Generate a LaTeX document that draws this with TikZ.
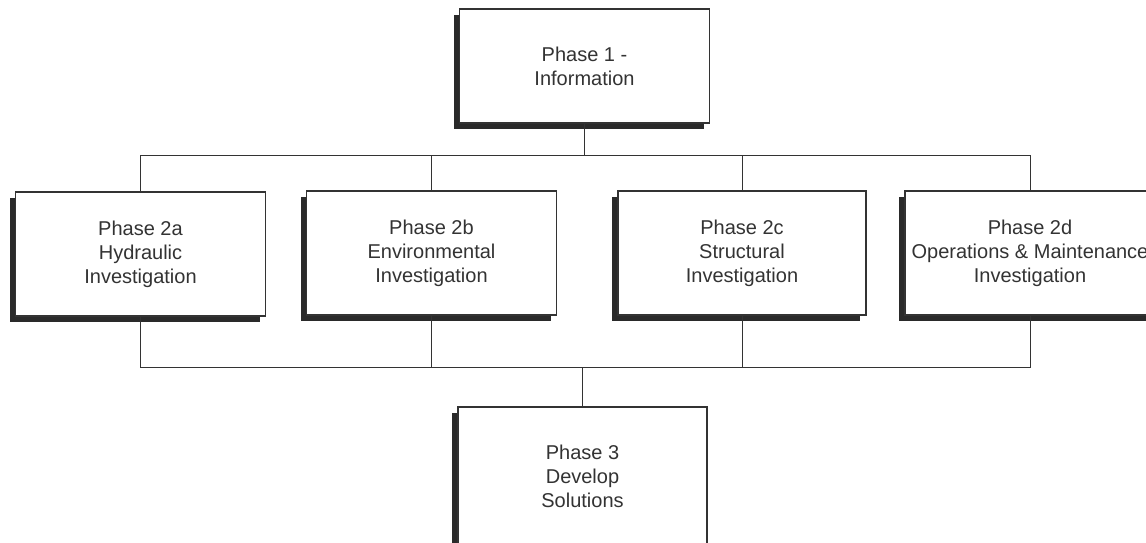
\documentclass[tikz,border=0pt]{standalone}
\usepackage{fontspec}
\setmainfont{Liberation Sans}
\usepackage{tikz}
\usetikzlibrary{positioning,shadows}
\definecolor{edge}{HTML}{333333}
\definecolor{shade}{HTML}{2A2A2A}

\begin{document}
\begin{tikzpicture}[x=1pt,y=-1pt,
  phase/.style={draw=edge,line width=1.4pt,fill=white,inner sep=0pt,
    text=black!80,align=center,font=\fontsize{20}{24}\selectfont,
    minimum width=250pt,minimum height=124pt,
    drop shadow={shadow xshift=-6pt,shadow yshift=-6pt,opacity=1,fill=shade}},
  link/.style={draw=edge,line width=1pt}]
  \clip (0,0) rectangle (1146,543);
  \fill[white] (0,0) rectangle (1146,543);
  % boxes
  \node[phase,minimum height=114pt] (p1) at (584.5,66) {Phase 1 -\\Information};
  \node[phase] (p2a) at (140.5,254) {Phase 2a\\Hydraulic\\Investigation};
  \node[phase] (p2b) at (431.5,253) {Phase 2b\\Environmental\\Investigation};
  \node[phase,minimum width=248pt] (p2c) at (742,253) {Phase 2c\\Structural\\Investigation};
  \node[phase] (p2d) at (1030,253) {Phase 2d\\Operations \& Maintenance\\Investigation};
  \node[phase,minimum width=249pt,minimum height=138pt] (p3) at (582.5,476) {Phase 3\\Develop\\Solutions};
  % upper bus
  \draw[link] (p1.south) -- ++(0,32) coordinate (hub1);
  \draw[link] (p2a.north) |- (hub1) -| (p2d.north);
  \draw[link] (p2b.north) -- (p2b.north |- hub1);
  \draw[link] (p2c.north) -- (p2c.north |- hub1);
  % lower bus
  \draw[link] (p3.north) -- ++(0,-39) coordinate (hub2);
  \draw[link] (p2a.south) |- (hub2) -| (p2d.south);
  \draw[link] (p2b.south) -- (p2b.south |- hub2);
  \draw[link] (p2c.south) -- (p2c.south |- hub2);
\end{tikzpicture}
\end{document}
